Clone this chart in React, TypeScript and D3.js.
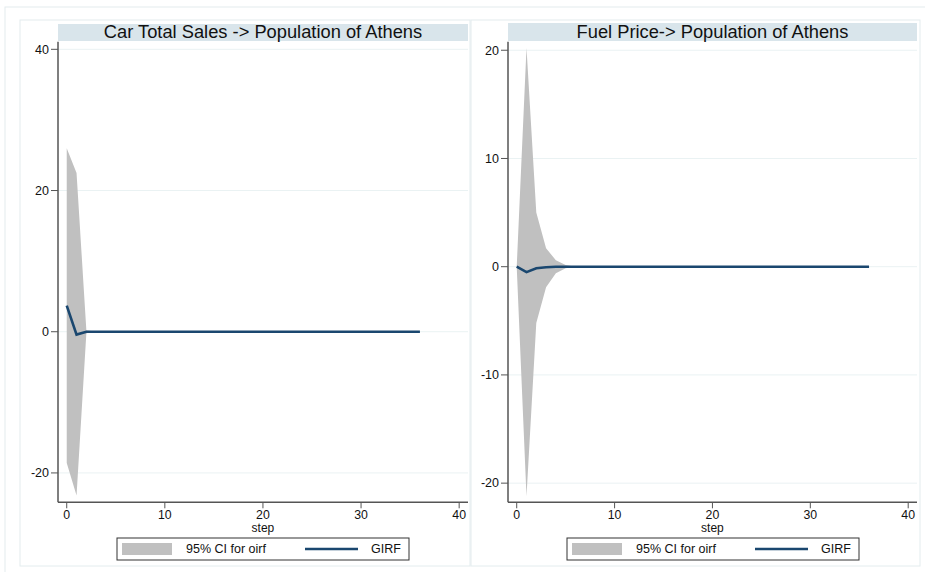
import React from "react";
import * as d3 from "d3";

const steps = [0,1,2,3,4,5,6,7,8,9,10,11,12,13,14,15,16,17,18,19,20,21,22,23,24,25,26,27,28,29,30,31,32,33,34,35,36];

const leftGirf = [3.7,-0.4,0,0,0,0,0,0,0,0,0,0,0,0,0,0,0,0,0,0,0,0,0,0,0,0,0,0,0,0,0,0,0,0,0,0,0];
const leftUpper = [26.0,22.5,0.2,0,0,0,0,0,0,0,0,0,0,0,0,0,0,0,0,0,0,0,0,0,0,0,0,0,0,0,0,0,0,0,0,0,0];
const leftLower = [-18.6,-23.2,-0.2,0,0,0,0,0,0,0,0,0,0,0,0,0,0,0,0,0,0,0,0,0,0,0,0,0,0,0,0,0,0,0,0,0,0];

const rightGirf = [0,-0.5,-0.15,-0.05,0,0,0,0,0,0,0,0,0,0,0,0,0,0,0,0,0,0,0,0,0,0,0,0,0,0,0,0,0,0,0,0,0];
const rightUpper = [0,20.2,5.0,1.7,0.6,0.15,0,0,0,0,0,0,0,0,0,0,0,0,0,0,0,0,0,0,0,0,0,0,0,0,0,0,0,0,0,0,0];
const rightLower = [0,-21.2,-5.2,-1.9,-0.6,-0.15,0,0,0,0,0,0,0,0,0,0,0,0,0,0,0,0,0,0,0,0,0,0,0,0,0,0,0,0,0,0,0];

const xTicks = [0, 10, 20, 30, 40];
const leftYTicks = [-20, 0, 20, 40];
const rightYTicks = [-20, -10, 0, 10, 20];

const leftTitle = "Car Total Sales -> Population of Athens";
const rightTitle = "Fuel Price-> Population of Athens";
const xLabel = "step";
const legendCI = "95% CI for oirf";
const legendLine = "GIRF";

const FONT = "'Liberation Sans', Arial, sans-serif";
const GRID = "#eaf2f3";
const FRAME = "#e3ecee";
const STRIP = "#d9e5eb";
const CI = "#c0c0c0";
const LINE = "#1a476f";
const AXIS = "#555";

type PanelProps = {
  px0: number; px1: number; py0: number; py1: number;
  yDomain: [number, number];
  yTicks: number[];
  girf: number[]; upper: number[]; lower: number[];
  title: string;
  stripTop: number;
  panelX0: number; panelX1: number;
  legendX0: number;
};

function Panel(p: PanelProps) {
  const x = d3.scaleLinear().domain([-0.89, 40.9]).range([p.px0, p.px1]);
  const y = d3.scaleLinear().domain(p.yDomain).range([p.py1, p.py0]);
  const area = d3.area<number>()
    .x((d, i) => x(steps[i]))
    .y0((d, i) => y(p.lower[i]))
    .y1((d, i) => y(p.upper[i]));
  const line = d3.line<number>()
    .x((d, i) => x(steps[i]))
    .y((d) => y(d));
  const lx = p.legendX0;
  return (
    <g>
      <rect x={p.panelX0} y={20} width={p.panelX1 - p.panelX0} height={546} fill="white" stroke={FRAME} strokeWidth={1} />
      <rect x={p.px0} y={p.stripTop} width={p.px1 - p.px0} height={41 - p.stripTop} fill={STRIP} />
      <text x={(p.px0 + p.px1) / 2} y={37.7} textAnchor="middle" fontFamily={FONT} fontSize={18.3} fill="#111">{p.title}</text>
      {p.yTicks.map((t) => (
        <line key={"g" + t} x1={p.px0} x2={p.px1} y1={y(t)} y2={y(t)} stroke={GRID} strokeWidth={1} />
      ))}
      <path d={area(steps) || ""} fill={CI} stroke="none" />
      <path d={line(p.girf) || ""} fill="none" stroke={LINE} strokeWidth={2.6} strokeLinejoin="miter" />
      <line x1={p.px0} x2={p.px0} y1={p.py0} y2={p.py1} stroke={AXIS} strokeWidth={1.5} />
      <line x1={p.px0} x2={p.px1} y1={p.py1} y2={p.py1} stroke={AXIS} strokeWidth={1.5} />
      {p.yTicks.map((t) => (
        <g key={"y" + t}>
          <line x1={p.px0 - 7} x2={p.px0} y1={y(t)} y2={y(t)} stroke={AXIS} strokeWidth={1} />
          <text x={p.px0 - 9} y={y(t) + 4.3} textAnchor="end" fontFamily={FONT} fontSize={12.5} fill="#111">{t}</text>
        </g>
      ))}
      {xTicks.map((t) => (
        <g key={"x" + t}>
          <line x1={x(t)} x2={x(t)} y1={p.py1} y2={p.py1 + 6} stroke={AXIS} strokeWidth={1} />
          <text x={x(t)} y={p.py1 + 16.3} textAnchor="middle" fontFamily={FONT} fontSize={12.3} fill="#111">{t}</text>
        </g>
      ))}
      <text x={x(20)} y={p.py1 + 29.3} textAnchor="middle" fontFamily={FONT} fontSize={12} fill="#111">{xLabel}</text>
      <rect x={lx} y={538} width={292} height={22} fill="white" stroke="#333" strokeWidth={1} />
      <rect x={lx + 5} y={543} width={50} height={12} fill={CI} />
      <text x={lx + 69} y={553.3} fontFamily={FONT} fontSize={12.5} fill="#111">{legendCI}</text>
      <line x1={lx + 188} x2={lx + 241} y1={549} y2={549} stroke={LINE} strokeWidth={2.6} />
      <text x={lx + 254} y={553.3} fontFamily={FONT} fontSize={12.5} fill="#111">{legendLine}</text>
    </g>
  );
}

export default function App() {
  return (
    <svg width={925} height={572} style={{ position: "absolute", left: 0, top: 0, background: "white" }}>
      <rect x={0} y={0} width={925} height={572} fill="white" />
      <rect x={5} y={7} width={930} height={580} fill="white" stroke={FRAME} strokeWidth={1} />
      <Panel px0={58} px1={468} py0={41.7} py1={502.3} yDomain={[-24.16, 41.08]} yTicks={leftYTicks}
        girf={leftGirf} upper={leftUpper} lower={leftLower} title={leftTitle} stripTop={24}
        panelX0={20} panelX1={470} legendX0={117} />
      <Panel px0={508} px1={917} py0={41.7} py1={502.3} yDomain={[-21.77, 20.79]} yTicks={rightYTicks}
        girf={rightGirf} upper={rightUpper} lower={rightLower} title={rightTitle} stripTop={23}
        panelX0={471} panelX1={920} legendX0={567} />
    </svg>
  );
}
